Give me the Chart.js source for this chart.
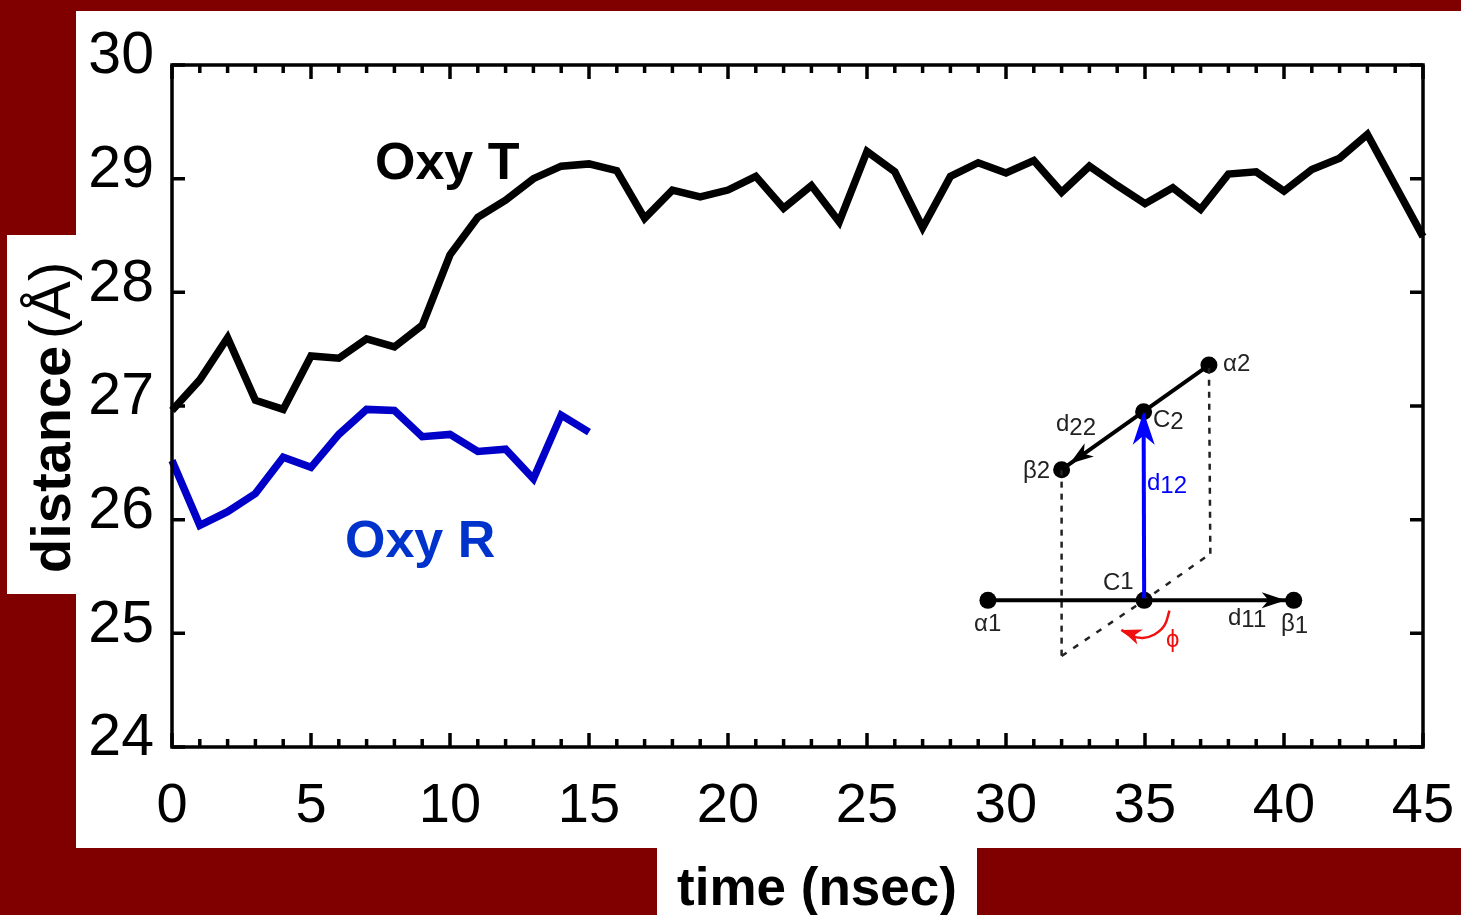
<!DOCTYPE html>
<html>
<head>
<meta charset="utf-8">
<style>
html,body{margin:0;padding:0;background:#800000;overflow:hidden}
canvas{display:block}
</style>
<script src="https://cdn.jsdelivr.net/npm/chart.js@4"></script>
</head>
<body>
<canvas id="c" width="1461" height="915"></canvas>
<script>
const FONT = '"Liberation Sans", Arial, sans-serif';

const oxyTimeT = [0,1,2,3,4,5,6,7,8,9,10,11,12,13,14,15,16,17,18,19,20,21,22,23,24,25,26,27,28,29,30,31,32,33,34,35,36,37,38,39,40,41,42,43,44,45];
const oxyTValues = [26.96,27.23,27.6,27.05,26.97,27.44,27.42,27.59,27.52,27.71,28.33,28.66,28.81,29.0,29.11,29.13,29.07,28.65,28.9,28.84,28.9,29.02,28.74,28.94,28.62,29.24,29.06,28.57,29.02,29.14,29.05,29.16,28.88,29.11,28.94,28.78,28.92,28.73,29.04,29.06,28.89,29.08,29.18,29.39,28.94,28.49];
const oxyTimeR = [0,1,2,3,4,5,6,7,8,9,10,11,12,13,14,15];
const oxyRValues = [26.52,25.95,26.07,26.23,26.55,26.46,26.75,26.97,26.96,26.73,26.75,26.6,26.62,26.36,26.92,26.77];

const xTickValues = [0,1,2,3,4,5,6,7,8,9,10,11,12,13,14,15,16,17,18,19,20,21,22,23,24,25,26,27,28,29,30,31,32,33,34,35,36,37,38,39,40,41,42,43,44,45];
const xLabelledTicks = [0,5,10,15,20,25,30,35,40,45];
const yTickValues = [24,25,26,27,28,29,30];

const xTitle = 'time (nsec)';
const yTitleWord = 'distance';
const yTitleUnit = '(Å)';
const seriesNames = ['Oxy T','Oxy R'];

// inset schematic, in the chart's own axis units
const alpha1 = {x:29.35,y:25.29}, c1 = {x:34.97,y:25.29}, beta1 = {x:40.35,y:25.29};
const alpha2 = {x:37.3,y:27.36}, c2 = {x:34.95,y:26.95}, beta2 = {x:32.0,y:26.44};
const footA = {x:32.0,y:24.8}, footB = {x:37.35,y:25.7};
const phiArc = [{x:35.88,y:25.2},{x:35.7,y:25.07},{x:35.34,y:24.99},{x:34.92,y:24.96},{x:34.49,y:24.98},{x:34.15,y:25.03}];

const ds = (data,color,extra) => Object.assign({data,borderColor:color,backgroundColor:color,pointRadius:0,showLine:true,clip:false,tension:0,borderJoinStyle:'miter'},extra||{});
const xy = (xs,ys) => xs.map((x,i)=>({x,y:ys[i]}));

const paintBackdrop = {
  id:'backdrop',
  beforeDraw(ch){
    const g = ch.ctx;
    g.save();
    g.fillStyle = '#800000'; g.fillRect(0,0,1461,915);
    g.fillStyle = '#ffffff';
    g.fillRect(76,11,1385,837);
    g.fillRect(7,235,69,359);
    g.fillRect(657,848,320,67);
    g.restore();
  }
};

function head(g,tip,from,color,len,hw){
  const a = Math.atan2(from.py-tip.py,from.px-tip.px);
  g.save();
  g.translate(tip.px,tip.py); g.rotate(a);
  g.fillStyle = color;
  g.beginPath();
  g.moveTo(0,0); g.lineTo(len,hw); g.lineTo(len*0.72,0); g.lineTo(len,-hw); g.closePath();
  g.fill();
  g.restore();
}

const frameAndText = {
  id:'frameAndText',
  afterDatasetsDraw(ch){
    const g = ch.ctx, X = ch.scales.x, Y = ch.scales.y, A = ch.chartArea;
    const P = p => ({px:X.getPixelForValue(p.x),py:Y.getPixelForValue(p.y)});
    g.save();
    g.strokeStyle = '#000'; g.lineWidth = 3.5;
    g.strokeRect(A.left,A.top,A.right-A.left,A.bottom-A.top);
    g.beginPath();
    xTickValues.forEach(v=>{
      const p = X.getPixelForValue(v), n = xLabelledTicks.includes(v)?14:8;
      g.moveTo(p,A.top); g.lineTo(p,A.top+n);
      g.moveTo(p,A.bottom); g.lineTo(p,A.bottom-n);
    });
    yTickValues.forEach(v=>{
      const p = Y.getPixelForValue(v);
      g.moveTo(A.left,p); g.lineTo(A.left+13,p);
      g.moveTo(A.right,p); g.lineTo(A.right-13,p);
    });
    g.stroke();

    // arrowheads
    head(g,{px:P(beta1).px-8,py:P(beta1).py},P(c1),'#000',24,8);
    const bp = P(beta2);
    head(g,{px:bp.px+8,py:bp.py-6},P(c2),'#000',24,8);
    head(g,P(c2),P(c1),'#0000ff',33,11);
    head(g,P(phiArc[5]),P(phiArc[3]),'#f01010',20,8);

    // series names and axis titles
    g.textBaseline = 'middle'; g.textAlign = 'left';
    g.fillStyle = '#000'; g.font = 'bold 52px '+FONT;
    g.fillText(seriesNames[0],375,165);
    g.fillStyle = '#0033cc';
    g.fillText(seriesNames[1],345,543);
    g.fillStyle = '#000'; g.font = 'bold 53px '+FONT;
    g.textAlign = 'center';
    g.fillText(xTitle,817,890);
    g.save();
    g.translate(70,0); g.rotate(-Math.PI/2);
    g.textBaseline = 'alphabetic'; g.textAlign = 'left';
    g.font = 'bold 56px '+FONT;
    g.fillText(yTitleWord,-573,0);
    g.font = '58px '+FONT;
    g.fillText(yTitleUnit,-339,0);
    g.restore();

    // inset labels: main text then lowered index
    const lab = (x,y,m,s,c,dy) => {
      g.textAlign='left'; g.fillStyle=c; g.font='24px '+FONT;
      g.fillText(m,x,y);
      const w = g.measureText(m).width;
      g.fillText(s,x+w,y+dy);
    };
    lab(1223,364,'α','2','#222',0);
    lab(1023,471,'β','2','#222',0);
    lab(974,624,'α','1','#222',0);
    lab(1281,624,'β','1','#222',2);
    lab(1103,583,'C','1','#222',-1);
    lab(1153,420,'C','2','#222',2);
    lab(1056,424,'d','22','#222',4);
    lab(1147,483,'d','12','#0000ff',3);
    lab(1228,618,'d','11','#222',2);
    lab(1166,640,'ϕ','','#f01010',0);
    g.restore();
  }
};

const noPadding = s => { s.paddingLeft = 0; s.paddingRight = 0; s.paddingTop = 0; s.paddingBottom = 0; };

new Chart(document.getElementById('c'),{
  type:'scatter',
  data:{datasets:[
    ds(xy(oxyTimeT,oxyTValues),'#000000',{label:seriesNames[0],borderWidth:7.5}),
    ds(xy(oxyTimeR,oxyRValues),'#0000c8',{label:seriesNames[1],borderWidth:7.5}),
    ds([alpha1,beta1],'#000',{borderWidth:4}),
    ds([alpha2,beta2],'#000',{borderWidth:4}),
    ds([beta2,footA],'#222',{borderWidth:2.5,borderDash:[6,6]}),
    ds([footA,c1,footB],'#222',{borderWidth:2.5,borderDash:[6,8]}),
    ds([footB,alpha2],'#222',{borderWidth:2.5,borderDash:[6,6]}),
    ds([c1,c2],'#0000ff',{borderWidth:4}),
    ds(phiArc,'#f01010',{borderWidth:2.5,tension:0.4}),
    {data:[alpha1,c1,beta1,alpha2,c2,beta2],showLine:false,pointRadius:8.5,pointHoverRadius:8.5,pointBackgroundColor:'#000',pointBorderWidth:0,clip:false}
  ]},
  plugins:[paintBackdrop,frameAndText],
  options:{
    responsive:false,
    animation:false,
    devicePixelRatio:1,
    layout:{padding:{left:0,right:38,top:65,bottom:0}},
    plugins:{legend:{display:false},tooltip:{enabled:false},title:{display:false}},
    events:[],
    scales:{
      x:{
        type:'linear',min:0,max:45,
        afterBuildTicks(s){ s.ticks = xTickValues.map(value=>({value})); },
        afterFit(s){ s.height = 168; noPadding(s); },
        grid:{display:false,drawTicks:false},
        border:{display:false},
        ticks:{
          autoSkip:false,maxRotation:0,minRotation:0,padding:26,color:'#000',
          font:{family:FONT,size:56},
          callback:v=>xLabelledTicks.includes(v)?String(v):''
        }
      },
      y:{
        type:'linear',min:24,max:30,
        afterBuildTicks(s){ s.ticks = yTickValues.map(value=>({value})); },
        afterFit(s){ s.width = 172; noPadding(s); },
        grid:{display:false,drawTicks:false},
        border:{display:false},
        ticks:{
          autoSkip:false,padding:18,color:'#000',labelOffset:-8,
          font:{family:FONT,size:59},
          callback:v=>String(v)
        }
      }
    }
  }
});
</script>
</body>
</html>
